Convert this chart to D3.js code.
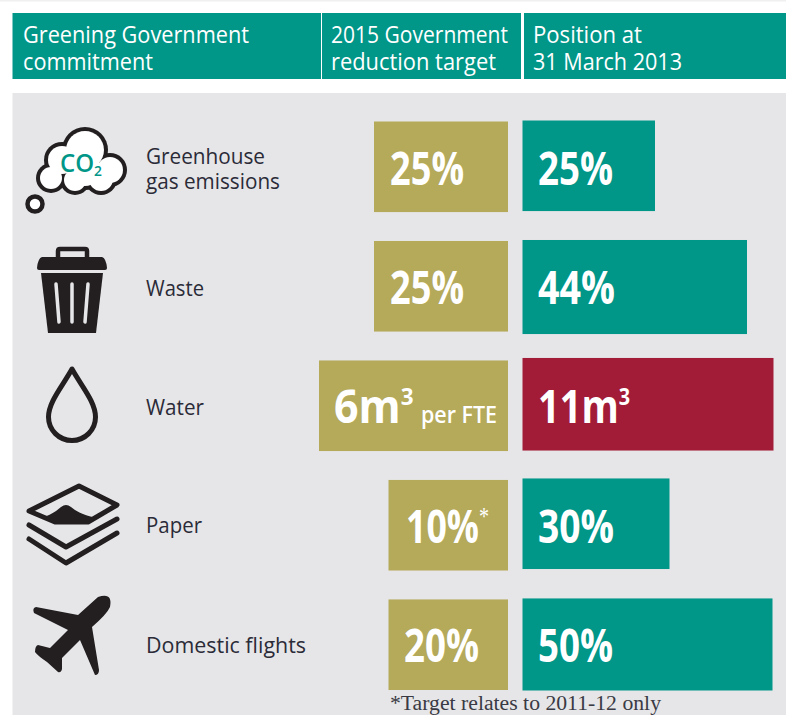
<!DOCTYPE html>
<html>
<head>
<meta charset="utf-8">
<script src="https://cdnjs.cloudflare.com/ajax/libs/d3/7.8.5/d3.min.js"></script>
<style>
html, body { margin: 0; padding: 0; background: #fff; overflow: hidden; }
svg { display: block; }
text { font-family: "Open Sans", "Noto Sans", sans-serif; }
</style>
</head>
<body>
<div id="visualization"></div>
<script>
// Data
const categories = ["Greenhouse gas emissions", "Waste", "Water", "Paper", "Domestic flights"];
const targetValues = [25, 25, 6, 10, 20];
const targetUnits = ["%", "%", "m", "%", "%"];
const positionValues = [25, 44, 11, 30, 50];
const positionUnits = ["%", "%", "m", "%", "%"];
const positionStatus = ["ok", "ok", "missed", "ok", "ok"];
const targetNotes = ["", "", "per FTE", "*", ""];
const headers = [["Greening Government", "commitment"], ["2015 Government", "reduction target"], ["Position at", "31 March 2013"]];
const footnote = "*Target relates to 2011-12 only";

const width = 786, height = 715;
const teal = "#009688", olive = "#b5a95a", crimson = "#a31c37", panel = "#e6e6e8", ink = "#231f20", labelInk = "#2b2b38";

const svg = d3.select("#visualization").append("svg").attr("width", width).attr("height", height);

// scales - the bars are not drawn to a common scale in the original, so lengths go by row
const y = d3.scaleBand().domain(categories).range([121.5, 690]).paddingInner(0.242);
const targetLength = d3.scaleOrdinal().domain(categories).range([134, 134, 189, 119.5, 119.5]);
const positionLength = d3.scaleOrdinal().domain(categories).range([132.5, 224.5, 251, 147, 250]);
const positionTop = d3.scaleOrdinal().domain(categories).range([-1, -1, -2.5, -1.5, -1]);
const positionExtra = d3.scaleOrdinal().domain(categories).range([0, 3.5, 2, 0, 1.5]);
const targetTextX = d3.scaleOrdinal().domain(categories).range([390, 390, 334, 406, 404]);
const targetTextWidth = d3.scaleOrdinal().domain(categories).range([74, 74, 163, 83, 75]);
const positionTextWidth = d3.scaleOrdinal().domain(categories).range([75, 77, 92, 76, 75]);
const statusColor = d3.scaleOrdinal().domain(["ok", "missed"]).range([teal, crimson]);

const targetEnd = 508, positionStart = 522.5;

svg.append("rect").attr("width", width).attr("height", 1.5).attr("fill", "#f0f0f0");

// header row
const headerBoxes = [[12.5, 321], [322, 521], [524, 786]];
const headerTextX = [23, 331, 533];
const headerWidths = [[226, 130], [177, 165], [109, 149]];
headers.forEach(function(lines, i) {
    svg.append("rect")
        .attr("x", headerBoxes[i][0]).attr("y", 13)
        .attr("width", headerBoxes[i][1] - headerBoxes[i][0]).attr("height", 66)
        .attr("fill", teal);
    lines.forEach(function(line, j) {
        svg.append("text")
            .attr("x", headerTextX[i]).attr("y", 43 + j * 27)
            .attr("font-size", 23).attr("font-weight", 500).attr("fill", "#fff")
            .attr("textLength", headerWidths[i][j]).attr("lengthAdjust", "spacingAndGlyphs")
            .text(line);
    });
});

svg.append("rect").attr("x", 12.5).attr("y", 93).attr("width", width - 12.5).attr("height", height - 93).attr("fill", panel);

// bars
const rows = categories.map(function(c, i) {
    return {category: c, target: targetValues[i], targetUnit: targetUnits[i], note: targetNotes[i], position: positionValues[i], positionUnit: positionUnits[i], status: positionStatus[i]};
});

svg.append("g").selectAll("rect").data(rows).join("rect")
    .attr("x", d => targetEnd - targetLength(d.category))
    .attr("y", d => y(d.category))
    .attr("width", d => targetLength(d.category))
    .attr("height", y.bandwidth())
    .attr("fill", olive);

svg.append("g").selectAll("rect").data(rows).join("rect")
    .attr("x", positionStart)
    .attr("y", d => y(d.category) + positionTop(d.category))
    .attr("width", d => positionLength(d.category))
    .attr("height", d => y.bandwidth() + positionExtra(d.category))
    .attr("fill", d => statusColor(d.status));

// big numbers, superscripts stay in the same text element as tspans
function bigText(x, baseline, str, unit, note, w) {
    const t = svg.append("text")
        .attr("x", x).attr("y", baseline)
        .attr("font-size", 46).attr("font-weight", 700).attr("fill", "#fff")
        .attr("textLength", w).attr("lengthAdjust", "spacingAndGlyphs");
    t.append("tspan").text(str + unit);
    if (unit === "m") {
        t.append("tspan").attr("font-size", 24).attr("dy", -18).text("3");
    }
    if (note === "*") {
        t.append("tspan").attr("font-size", 26).attr("font-weight", 400).attr("dy", -18)
            .style("font-family", "'Liberation Serif', serif").text(note);
    } else if (note) {
        t.append("tspan").attr("font-size", 23).attr("font-weight", 600).attr("dy", 18).attr("dx", 8).text(note);
    }
}
const baseOffset = 63;
rows.forEach(function(d) {
    const base = y(d.category) + baseOffset;
    bigText(targetTextX(d.category), base, d.target, d.targetUnit, d.note, targetTextWidth(d.category));
    bigText(positionStart + 15.5, base, d.position, d.positionUnit, "", positionTextWidth(d.category));
});

// row labels
const labelLines = [["Greenhouse", "gas emissions"], ["Waste"], ["Water"], ["Paper"], ["Domestic flights"]];
const labelWidths = [[119, 134], [58], [58], [56], [160]];
const labelBase = [164, 296, 415, 533, 653];
labelLines.forEach(function(lines, i) {
    lines.forEach(function(line, j) {
        svg.append("text")
            .attr("x", 146).attr("y", labelBase[i] + j * 25)
            .attr("font-size", 21.5).attr("fill", labelInk)
            .attr("textLength", labelWidths[i][j]).attr("lengthAdjust", "spacingAndGlyphs")
            .text(line);
    });
});

svg.append("text")
    .attr("x", 390).attr("y", 710)
    .attr("font-size", 20).attr("fill", "#3a3a44")
    .attr("textLength", 271).attr("lengthAdjust", "spacingAndGlyphs")
    .style("font-family", "'Liberation Serif', serif")
    .text(footnote);

// icons
const icons = svg.append("g");

// cloud - dark circles under white ones gives the outline
const lobes = [[85, 150, 23], [62, 160, 18], [51, 178, 15], [75, 180, 15], [101, 179, 16], [110, 170, 17], [85, 170, 20]];
icons.append("g").selectAll("circle").data(lobes).join("circle")
    .attr("cx", d => d[0]).attr("cy", d => d[1]).attr("r", d => d[2]).attr("fill", ink);
icons.append("g").selectAll("circle").data(lobes).join("circle")
    .attr("cx", d => d[0]).attr("cy", d => d[1]).attr("r", d => d[2] - 4).attr("fill", "#fff");
icons.append("circle").attr("cx", 35).attr("cy", 204).attr("r", 7.5).attr("fill", "#fff").attr("stroke", ink).attr("stroke-width", 4.5);
const co2 = icons.append("text").attr("x", 60).attr("y", 172).attr("font-size", 26).attr("font-weight", 600).attr("fill", teal)
    .attr("textLength", 42).attr("lengthAdjust", "spacingAndGlyphs");
co2.append("tspan").text("CO");
co2.append("tspan").attr("font-size", 15).attr("dy", 4).text("2");

// bin
icons.append("path").attr("fill", "none").attr("stroke", ink).attr("stroke-width", 4.5)
    .attr("d", "M58 258 L58 251 Q58 249 60 249 L85 249 Q87 249 87 251 L87 258");
icons.append("path").attr("fill", ink)
    .attr("d", "M42 257 L102 257 Q106 258 107 268 Q107 270 105 270 L39 270 Q37 270 37 268 Q38 258 42 257 Z");
icons.append("path").attr("fill", ink).attr("d", "M41 273 L103 273 L96 333 L48 333 Z");
icons.append("g").selectAll("line").data([[56, 284, 59, 322], [72, 284, 72, 322], [88, 284, 85, 322]]).join("line")
    .attr("x1", d => d[0]).attr("y1", d => d[1]).attr("x2", d => d[2]).attr("y2", d => d[3])
    .attr("stroke", panel).attr("stroke-width", 3.5).attr("stroke-linecap", "round");

// drop
icons.append("path").attr("fill", "none").attr("stroke", ink).attr("stroke-width", 5).attr("stroke-linejoin", "round")
    .attr("d", "M72 369 C62 387 48.5 402 48.5 417 A23.5 23.5 0 0 0 95.5 417 C95.5 402 82 387 72 369 Z");

// paper
icons.append("path").attr("fill", "none").attr("stroke", ink).attr("stroke-width", 5).attr("stroke-linejoin", "round")
    .attr("d", "M79 486 L117 505 L88 522 L55 522 L29 511 Z");
icons.append("path").attr("fill", ink)
    .attr("d", "M42 517 C50 516 56 511 61 507 Q66 503 71 507 C77 512 86 516 97 518 L88 523 L55 523 Z");
icons.append("path").attr("fill", "none").attr("stroke", ink).attr("stroke-width", 5).attr("stroke-linecap", "round").attr("stroke-linejoin", "round")
    .attr("d", "M29 525 L66 547 L117 519 M29 539 L66 563 L117 533");

// plane
icons.append("path").attr("fill", ink)
    .attr("d", "M98 597 Q113 592 110 607 Q107 614 92 627 L99 670 Q99 675 95 675 L80 640 L62 658 L62 669 Q61 673 58 672 L47 662 Q38 656 35 652 Q35 646 38 645 L50 648 L68 630 L34 613 Q32 608 36 607 L78 615 Z");
</script>
</body>
</html>
